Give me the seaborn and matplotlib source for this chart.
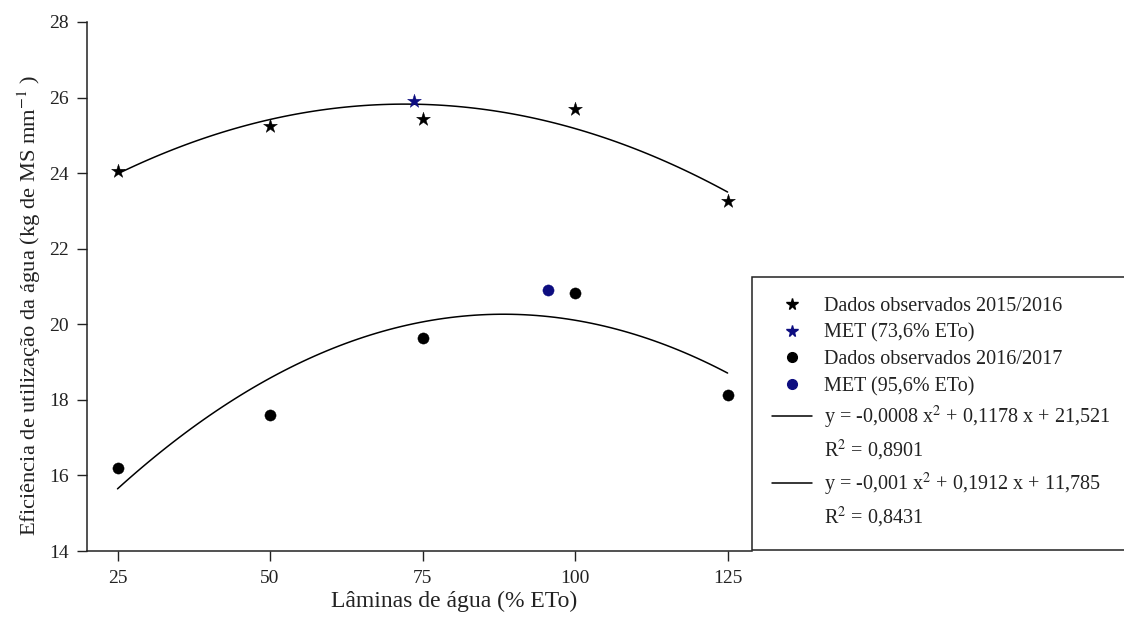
import matplotlib
matplotlib.use("Agg")
import matplotlib.pyplot as plt
from matplotlib.lines import Line2D
import seaborn as sns
import numpy as np

# ---- data ----
laminas = [25, 50, 75, 100, 125]
efic_2015_2016 = [24.06, 25.26, 25.44, 25.69, 23.26]
efic_2016_2017 = [16.20, 17.61, 19.64, 20.82, 18.13]
met_x_2015 = [73.6]
met_y_2015 = [25.91]
met_x_2016 = [95.6]
met_y_2016 = [20.92]
# fitted curves as drawn in the reference (read at the treatment levels)
curve_2015_2016 = [24.00, 25.38, 25.82, 25.22, 23.48]
curve_2016_2017 = [15.64, 18.60, 20.02, 20.14, 18.70]

x_ticks = [25, 50, 75, 100, 125]
y_ticks = [14, 16, 18, 20, 22, 24, 26, 28]

legend_labels = [
    "Dados observados 2015/2016",
    "MET (73,6% ETo)",
    "Dados observados 2016/2017",
    "MET (95,6% ETo)",
    "y = -0,0008 x$^{2}$ + 0,1178 x + 21,521",
    "R$^{2}$ = 0,8901",
    "y = -0,001 x$^{2}$ + 0,1912 x + 11,785",
    "R$^{2}$ = 0,8431",
]
x_label = "Lâminas de água (% ETo)"
y_label = "Eficiência de utilização da água (kg de MS mm$^{-1}$ )"

# ---- style ----
sns.set_theme(style="ticks")
plt.rcParams["font.family"] = ["Liberation Serif", "DejaVu Serif"]
plt.rcParams["mathtext.fontset"] = "stix"

W, H = 1124, 624
fig = plt.figure(figsize=(W / 100, H / 100), dpi=100)
ax_left, ax_right, ax_bottom, ax_top = 87, 752, 551, 22
ax = fig.add_axes([ax_left / W, 1 - ax_bottom / H,
                   (ax_right - ax_left) / W, (ax_bottom - ax_top) / H])

navy = "#0d0d80"

sns.regplot(x=laminas, y=curve_2015_2016, order=2, scatter=False, ci=None,
            ax=ax, line_kws=dict(color="black", lw=1.1), truncate=True)
sns.regplot(x=laminas, y=curve_2016_2017, order=2, scatter=False, ci=None,
            ax=ax, line_kws=dict(color="black", lw=1.1), truncate=True)

sns.scatterplot(x=laminas, y=efic_2015_2016, marker="*", s=110, color="black",
                edgecolor="black", linewidth=0.3, ax=ax, zorder=3)
sns.scatterplot(x=met_x_2015, y=met_y_2015, marker="*", s=110, color=navy,
                edgecolor=navy, linewidth=0.3, ax=ax, zorder=3)
sns.scatterplot(x=laminas, y=efic_2016_2017, marker="o", s=65, color="black",
                edgecolor="black", linewidth=0.3, ax=ax, zorder=3)
sns.scatterplot(x=met_x_2016, y=met_y_2016, marker="o", s=65, color=navy,
                edgecolor=navy, linewidth=0.3, ax=ax, zorder=3)

ax.set_xlim(20, 129)
ax.set_ylim(14, 28)
ax.set_xticks(x_ticks)
ax.set_yticks(y_ticks)
ax.tick_params(axis="both", direction="out", length=7, width=1.0,
               color="#222222", labelsize=14, labelcolor="#222222")
ax.tick_params(axis="x", pad=7)
ax.tick_params(axis="y", pad=6)
for s in ["top", "right"]:
    ax.spines[s].set_visible(False)
for s in ["left", "bottom"]:
    ax.spines[s].set_linewidth(1.1)
    ax.spines[s].set_color("#222222")

ax.set_xlabel(x_label, fontsize=17, color="#222222")
ax.set_ylabel(y_label, fontsize=16.2, color="#222222")
ax.xaxis.set_label_coords(0.552, -0.076)
ax.yaxis.set_label_coords(-0.066, 0.465)

# ---- legend ----
handles = [
    Line2D([], [], ls="none", marker="*", ms=8.5, color="black"),
    Line2D([], [], ls="none", marker="*", ms=8.5, color=navy),
    Line2D([], [], ls="none", marker="o", ms=7, color="black"),
    Line2D([], [], ls="none", marker="o", ms=7, color=navy),
    Line2D([], [], color="black", lw=1.1),
    Line2D([], [], color="none"),
    Line2D([], [], color="black", lw=1.1),
    Line2D([], [], color="none"),
]
leg_x0 = 752 / W
leg_top = 1 - 277 / H
leg = ax.legend(handles, legend_labels, loc="upper left",
                bbox_to_anchor=(leg_x0, 0.0, (1140 - 752) / W, leg_top),
                bbox_transform=fig.transFigure, mode="expand",
                borderaxespad=0, fontsize=14.5, frameon=True, fancybox=False,
                edgecolor="#222222", facecolor="white", framealpha=1,
                handlelength=2.0, handletextpad=0.6, borderpad=1.0,
                labelspacing=0.37)
leg.get_frame().set_linewidth(1.1)
for t in leg.get_texts():
    t.set_color("#222222")

fig.savefig("out.png", dpi=100)
